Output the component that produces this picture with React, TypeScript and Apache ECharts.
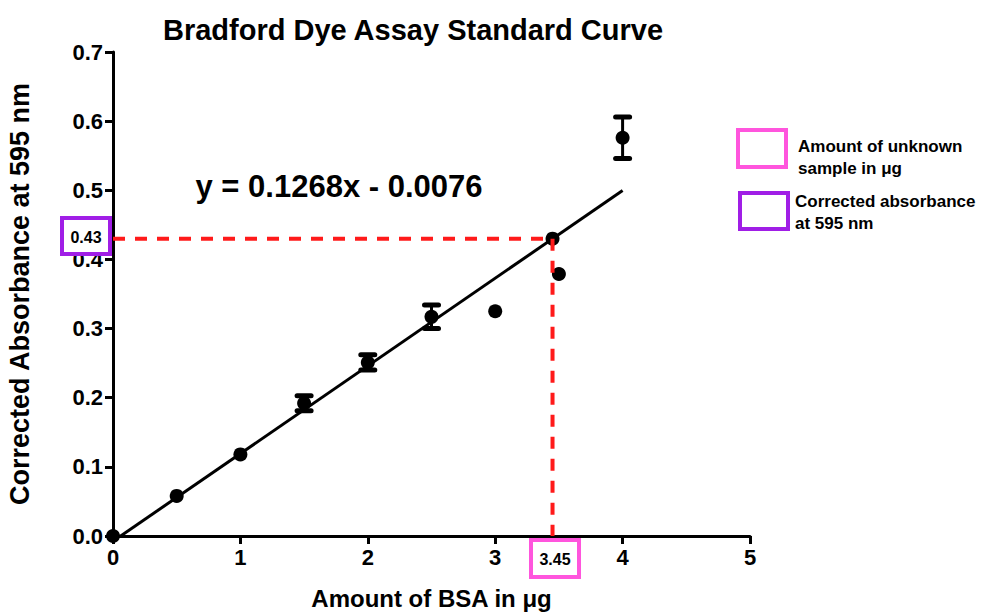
import React, { useEffect, useRef } from "react";
import * as echarts from "echarts";

const amounts = [0, 0.5, 1, 1.5, 2, 2.5, 3, 3.5, 4];
const absorbances = [0, 0.058, 0.118, 0.192, 0.251, 0.317, 0.325, 0.379, 0.576];
const errors = [0, 0, 0, 0.011, 0.011, 0.017, 0, 0, 0.03];
const slope = 0.1268;
const intercept = -0.0076;
const fitRange = [0, 4];
const unknownX = 3.45;
const unknownY = 0.43;
const xTicks = [0, 1, 2, 3, 4, 5];
const yTicks = [0, 0.1, 0.2, 0.3, 0.4, 0.5, 0.6, 0.7];

const FONT = "Liberation Sans";

export default function App() {
  const ref = useRef<HTMLDivElement>(null);
  useEffect(() => {
    if (!ref.current) return;
    const chart = echarts.init(ref.current, null, { renderer: "svg" });
    const points = amounts.map((x, i) => [x, absorbances[i]]);
    const errData = amounts
      .map((x, i) => [x, absorbances[i], errors[i]])
      .filter((d) => d[2] > 0);
    const fitData = fitRange.map((x) => [x, slope * x + intercept]);
    const legendText = (x: number, y: number, text: string, spacing: number) => ({
      type: "text",
      x,
      y,
      style: {
        text,
        fontSize: 17,
        fontWeight: "bold",
        fontFamily: FONT,
        fill: "#000",
        textVerticalAlign: "middle",
        letterSpacing: spacing,
      },
    });
    chart.setOption({
      animation: false,
      textStyle: { fontFamily: FONT },
      grid: { left: 113, right: 245, top: 52, bottom: 78, containLabel: false, outerBoundsMode: "none" },
      xAxis: {
        type: "value",
        min: xTicks[0],
        max: xTicks[xTicks.length - 1],
        interval: 1,
        name: "Amount of BSA in μg",
        nameLocation: "middle",
        nameGap: 49,
        nameTextStyle: { fontSize: 24, fontWeight: "bold", color: "#000", fontFamily: FONT, lineHeight: 26 },
        axisLine: { lineStyle: { color: "#000", width: 3 } },
        axisTick: { length: 8, lineStyle: { color: "#000", width: 3 } },
        axisLabel: { fontSize: 22, fontWeight: "bold", color: "#000", margin: 10, fontFamily: FONT },
        splitLine: { show: false },
      },
      yAxis: {
        type: "value",
        min: yTicks[0],
        max: yTicks[yTicks.length - 1],
        interval: 0.1,
        name: "Corrected Absorbance at 595 nm",
        nameLocation: "middle",
        nameGap: 80,
        nameTextStyle: { fontSize: 27, fontWeight: "bold", color: "#000", fontFamily: FONT },
        axisLine: { lineStyle: { color: "#000", width: 3 } },
        axisTick: { length: 8, lineStyle: { color: "#000", width: 3 } },
        axisLabel: {
          fontSize: 22,
          fontWeight: "bold",
          color: "#000",
          margin: 10,
          fontFamily: FONT,
          formatter: (v: number) => v.toFixed(1),
        },
        splitLine: { show: false },
      },
      series: [
        {
          type: "line",
          data: fitData,
          showSymbol: false,
          clip: true,
          lineStyle: { color: "#000", width: 3 },
          z: 2,
        },
        {
          type: "custom",
          data: errData,
          z: 3,
          renderItem: (params: any, api: any) => {
            const x = api.value(0);
            const y = api.value(1);
            const e = api.value(2);
            const top = api.coord([x, y + e]);
            const bot = api.coord([x, y - e]);
            const cap = 7;
            const style = { stroke: "#000", lineWidth: 3, lineCap: "round" };
            const capStyle = { stroke: "#000", lineWidth: 5, lineCap: "round" };
            return {
              type: "group",
              children: [
                { type: "line", shape: { x1: top[0], y1: top[1], x2: bot[0], y2: bot[1] }, style },
                { type: "line", shape: { x1: top[0] - cap, y1: top[1], x2: top[0] + cap, y2: top[1] }, style: capStyle },
                { type: "line", shape: { x1: bot[0] - cap, y1: bot[1], x2: bot[0] + cap, y2: bot[1] }, style: capStyle },
              ],
            };
          },
        },
        {
          type: "scatter",
          data: [...points, [unknownX, unknownY]],
          symbol: "circle",
          symbolSize: 14,
          itemStyle: { color: "#000", opacity: 1 },
          clip: false,
          z: 4,
        },
        {
          type: "line",
          data: [
            [0, unknownY],
            [unknownX, unknownY],
          ],
          showSymbol: false,
          lineStyle: { color: "#ff1a1a", width: 4, type: [12, 10] },
          z: 5,
        },
        {
          type: "line",
          data: [
            [unknownX, unknownY],
            [unknownX, 0],
          ],
          showSymbol: false,
          lineStyle: { color: "#ff1a1a", width: 4, type: [12, 10] },
          z: 5,
        },
      ],
      graphic: [
        {
          type: "text",
          x: 413,
          y: 30,
          style: {
            text: "Bradford Dye Assay Standard Curve",
            fontSize: 29,
            fontWeight: "bold",
            fontFamily: FONT,
            fill: "#000",
            textAlign: "center",
            textVerticalAlign: "middle",
          },
        },
        {
          type: "text",
          x: 339,
          y: 186,
          style: {
            text: "y = 0.1268x - 0.0076",
            fontSize: 31,
            fontWeight: "bold",
            fontFamily: FONT,
            fill: "#000",
            textAlign: "center",
            textVerticalAlign: "middle",
          },
        },
        {
          type: "rect",
          shape: { x: 62, y: 218, width: 48, height: 36 },
          style: { fill: "#fff", stroke: "#a01ee6", lineWidth: 4 },
          z: 10,
        },
        {
          type: "text",
          x: 86,
          y: 237,
          z: 11,
          style: {
            text: "0.43",
            fontSize: 16,
            fontWeight: "bold",
            fontFamily: FONT,
            fill: "#000",
            textAlign: "center",
            textVerticalAlign: "middle",
          },
        },
        {
          type: "rect",
          shape: { x: 531, y: 540, width: 48, height: 37 },
          style: { fill: "#fff", stroke: "#ff55dd", lineWidth: 4 },
          z: 10,
        },
        {
          type: "text",
          x: 555,
          y: 559,
          z: 11,
          style: {
            text: "3.45",
            fontSize: 16,
            fontWeight: "bold",
            fontFamily: FONT,
            fill: "#000",
            textAlign: "center",
            textVerticalAlign: "middle",
          },
        },
        {
          type: "rect",
          shape: { x: 738, y: 130, width: 48, height: 37 },
          style: { fill: "#fff", stroke: "#ff55dd", lineWidth: 4 },
        },
        legendText(798, 146, "Amount of unknown", 1.2),
        legendText(798, 168, "sample in μg", 1.2),
        {
          type: "rect",
          shape: { x: 740, y: 193, width: 48, height: 36 },
          style: { fill: "#fff", stroke: "#a01ee6", lineWidth: 4 },
        },
        legendText(795, 201, "Corrected absorbance", 0.3),
        legendText(795, 223, "at 595 nm", 0.3),
      ],
    });
    return () => chart.dispose();
  }, []);
  return <div ref={ref} style={{ width: 995, height: 614, position: "absolute", left: 0, top: 0 }} />;
}
